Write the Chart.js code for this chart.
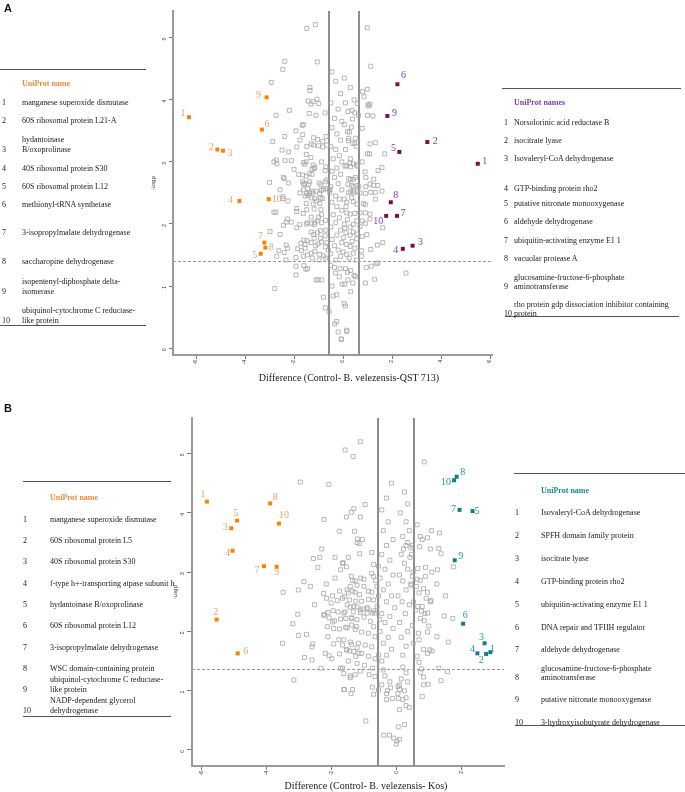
<!DOCTYPE html>
<html><head><meta charset="utf-8">
<script src="https://cdn.jsdelivr.net/npm/chart.js@4.4.0/dist/chart.umd.min.js"></script>
<style>
html,body{margin:0;padding:0;background:#fff;}
body{width:685px;height:792px;position:relative;overflow:hidden;font-family:"Liberation Serif","Times New Roman",serif;color:#1a1a1a;}
#txt{position:absolute;left:0;top:0;width:685px;height:792px;will-change:transform;}
.t{position:absolute;white-space:pre;font-size:8px;color:#1a1a1a;}
.ln{position:absolute;height:0;border-top:1.5px solid #555;}
canvas{position:absolute;}
.panel{position:absolute;font:bold 11px "Liberation Sans",Arial,sans-serif;color:#111;}
.xt{position:absolute;width:400px;text-align:center;font-size:10px;line-height:12px;white-space:pre;}
</style></head><body>
<canvas id="cA" width="380" height="400" style="left:120px;top:0px"></canvas>
<canvas id="cB" width="380" height="392" style="left:140px;top:400px"></canvas>
<div id="txt">
<div class="panel" style="left:4px;top:2px">A</div>
<div class="panel" style="left:4px;top:402px">B</div>
<div class="xt" style="left:149px;top:372px">Difference (Control- B. velezensis-QST 713)</div>
<div class="xt" style="left:166px;top:780px">Difference (Control- B. velezensis- Kos)</div>
</div>
<script>
// ---------------- DATA ----------------
const yTitle = "-Log p";
const labelsNum = ["1","2","3","4","5","6","7","8","9","10"];

// Panel A thresholds
const vLinesA = [-0.57, 0.65];
const hLineA = 1.40;
// Panel B thresholds
const vLinesB = [-0.56, 0.53];
const hLineB = 1.37;

// Panel A: down (orange) proteins 1..10
const downA_x = [-6.29,-5.13,-4.90,-4.23,-3.36,-3.31,-3.21,-3.17,-3.12,-3.03];
const downA_y = [3.72,3.20,3.18,2.37,1.52,3.52,1.70,1.62,4.04,2.40];
// Panel A: up (maroon) proteins 1..10
const upA_x = [5.50,3.44,2.84,2.44,2.30,2.22,2.20,1.95,1.81,1.76];
const upA_y = [2.97,3.32,1.65,1.60,3.16,4.25,2.13,2.35,3.74,2.13];
// Panel B: down (orange)
const downB_x = [-5.84,-5.54,-5.09,-5.05,-4.91,-4.89,-4.08,-3.89,-3.69,-3.62];
const downB_y = [4.19,2.20,3.74,3.36,3.87,1.63,3.10,4.16,3.09,3.82];
// Panel B: up (teal)
const upB_x = [2.90,2.77,2.72,2.50,2.35,2.06,1.95,1.86,1.80,1.78];
const upB_y = [1.65,1.62,1.80,1.63,4.03,2.13,4.05,4.61,3.20,4.55];

// Protein names
const namesA_left = ["manganese superoxide dismutase","60S ribosomal protein L21-A","hydantoinase\nB/oxoprolinase","40S ribosomal protein S30","60S ribosomal protein L12","methionyl-tRNA synthetase","3-isopropylmalate dehydrogenase","saccharopine dehydrogenase","isopentenyl-diphosphate delta-\nisomerase","ubiquinol-cytochrome C reductase-\nlike protein"];
const namesA_right = ["Norsolorinic acid reductase B","isocitrate lyase","Isovaleryl-CoA dehydrogenase","GTP-binding protein rho2","putative nitronate monooxygenase","aldehyde dehydrogenase","ubiquitin-activating enzyme E1 1","vacuolar protease A","glucosamine-fructose-6-phosphate\naminotransferase","rho protein gdp dissociation inhibitor containing\nprotein"];
const namesB_left = ["manganese superoxide dismutase","60S ribosomal protein L5","40S ribosomal protein S30","f-type h+-transporting atpase subunit h","hydantoinase B/oxoprolinase","60S ribosomal protein L12","3-isopropylmalate dehydrogenase","WSC domain-containing protein","ubiquinol-cytochrome C reductase-\nlike protein","NADP-dependent glycerol\ndehydrogenase"];
const namesB_right = ["Isovaleryl-CoA dehydrogenase","SPFH domain family protein","isocitrate lyase","GTP-binding protein rho2","ubiquitin-activating enzyme E1 1","DNA repair and TFIIH regulator","aldehyde dehydrogenase","glucosamine-fructose-6-phosphate\naminotransferase","putative nitronate monooxygenase","3-hydroxyisobutyrate dehydrogenase"];

// Other (non-significant) proteins, panel A [difference, -log p]
const greyA = [
[-1.48,5.15],[-1.13,5.21],[-2.38,4.62],[-1.05,4.61],[-2.46,4.49],[-2.93,4.28],[-1.35,4.2],[-1.35,4.15],[-1.07,4.01],[-1.43,3.98],[-1.22,3.97],[-1.31,3.93],[-0.99,3.94],[-2.19,3.83],[-2.73,3.75],[-1.38,3.78],[-1.11,3.75],[-0.73,3.79],[-1.67,3.59],[-1.62,3.6],[-1.92,3.5],[-1.65,3.44],[-2.38,3.41],[-1.2,3.39],[-1.04,3.36],[-0.69,3.41],[-0.83,3.33],[-2.87,3.33],
[-1.76,3.35],[-1.48,3.25],[-1.29,3.29],[-1.2,3.27],[-1.0,3.26],[-2.49,3.19],[-2.22,3.16],[-1.89,3.24],[-1.5,3.12],[-1.31,3.07],[-0.83,3.24],[-0.67,3.27],[-2.82,3.0],[-2.72,3.03],[-2.7,2.97],[-2.37,3.02],[-2.11,3.02],[-1.62,2.99],[-1.56,2.96],[-1.5,3.0],[-1.22,2.95],[-1.15,2.91],[-1.27,2.88],[-1.18,2.89],[-0.88,3.0],[-0.7,2.92],[-2.0,2.88],[-1.81,2.8],[-1.65,2.79],[-1.38,2.81],[-1.27,2.8],[-1.5,2.77],[-0.73,2.86],[-2.44,2.75],[-2.4,2.73],[-3.0,2.67],[-2.22,2.66],[-1.65,2.68],[-1.6,2.64],[-1.57,2.65],[-1.36,2.68],[-1.4,2.64],[-0.97,2.66],[-0.9,2.63],[-0.72,2.68],[-0.66,2.71],[-2.57,2.55],[-1.62,2.55],[-1.44,2.57],[-1.27,2.53],[-1.1,2.53],[-0.88,2.54],[-0.8,2.56],[-0.67,2.57],[-0.57,2.55],[-1.76,2.5],[-1.49,2.49],[-1.36,2.5],[-1.22,2.5],[-0.95,2.49],
[-2.45,2.44],[-2.45,2.41],[-2.25,2.37],[-1.89,2.25],[-1.89,2.2],[-2.82,2.19],[-2.74,2.19],[-2.27,2.08],[-2.32,2.03],[-2.43,1.98],[-2.11,2.03],[-2.98,1.88],[-2.57,1.83],[-2.32,1.66],[-2.27,1.61],[-2.4,1.54],[-2.62,1.57],[-2.71,1.48],[-2.33,1.42],
[-1.55,2.45],[-1.42,2.46],[-1.3,2.42],[-1.15,2.41],[-1.08,2.37],[-0.92,2.42],[-0.85,2.41],[-1.5,2.33],[-1.22,2.32],[-0.95,2.33],[-1.48,2.23],[-1.18,2.24],[-0.9,2.23],[-0.88,2.15],[-1.0,2.11],[-1.3,2.11],[-1.62,2.17],[-1.05,2.05],[-1.15,2.02],[-1.3,2.01],[-1.45,2.02],[-1.5,2.0],[-1.18,1.99],[-0.87,2.02],[-0.72,2.06],
[-1.89,1.94],[-1.77,1.99],[-1.3,1.87],[-1.2,1.83],[-1.04,1.86],[-0.92,1.89],[-0.7,1.9],[-0.73,1.81],[-0.92,1.77],[-1.18,1.77],[-1.6,1.74],[-1.47,1.73],[-1.72,1.69],[-1.55,1.67],[-1.3,1.7],[-1.12,1.65],[-1.02,1.68],[-0.88,1.71],[-0.72,1.63],[-0.65,1.7],[-1.85,1.6],[-1.7,1.57],[-1.55,1.61],[-1.3,1.53],[-1.15,1.56],[-0.95,1.51],[-0.8,1.49],[-0.6,1.58],[-1.45,1.5],[-1.92,1.46],[-1.62,1.48],[-1.25,1.45],[-0.98,1.42],[-0.7,1.45],
[-1.92,1.32],[-1.92,1.18],[-1.6,1.33],[-1.52,1.27],[-1.45,1.28],[-1.1,1.1],[-1.02,1.1],[-0.87,1.1],[-0.8,0.82],[-0.72,0.65],[-0.57,0.59],[-2.79,0.96],
[-0.45,1.0],[-0.26,0.86],[-0.4,0.84],[-0.26,0.43],[-0.34,0.39],[-0.2,0.26],[-0.07,0.15],[0.15,0.29],[0.07,1.03],[0.31,0.91],[0.04,0.72],[0.1,0.68],[0.15,0.27],[-0.07,0.14],[0.91,1.05],[1.29,1.11],[2.57,1.21],[0.5,1.15],[0.45,1.17],[0.95,1.3],[1.15,1.32],[1.35,1.36],[1.42,1.37],[0.1,1.28],[0.3,1.25],[0.18,1.22],
[-0.12,1.28],[-0.31,1.21],[-0.04,1.03],[-0.5,1.33],[-0.35,1.3],[-0.15,1.15],[0.2,1.1],[0.4,1.05],
[0.18,3.49],[0.23,3.38],[0.15,2.94],[0.23,2.73],[0.23,2.5],[-0.54,2.55],[-0.54,2.5],
[0.59,3.94],[0.37,3.83],[0.48,3.79],[0.2,3.81],[0.63,3.75],[0.39,3.69],[0.34,3.56],[0.26,3.48],[0.78,3.54],[0.5,3.38],[0.22,3.34],[0.4,3.3],[0.48,3.3],[0.55,3.25],[0.3,3.05],[0.28,2.98],[0.42,2.97],[0.55,2.95],[0.08,2.93],[0.3,2.92],[0.6,2.93],[0.78,3.0],
[0.99,5.16],[1.13,4.54],[0.99,4.17],[0.8,4.13],[0.86,4.05],[1.02,3.92],[1.1,3.93],[1.05,3.9],[1.0,3.75],[1.22,3.74],[1.1,3.29],[1.32,3.31],[1.0,3.13],[1.08,3.13],[1.7,3.13],[1.59,2.91],[1.43,2.86],[0.9,2.84],[0.93,2.75],[0.5,2.75],[0.3,2.72],[0.42,2.72],[1.25,2.72],[0.2,2.64],[0.35,2.62],[0.42,2.6],[0.58,2.62],[0.65,2.6],[0.93,2.6],[1.1,2.64],[1.25,2.62],[1.42,2.62],[0.58,2.52],[0.3,2.52],[0.45,2.5],
[0.42,2.53],[0.69,2.5],[0.91,2.49],[1.13,2.51],[1.32,2.51],[1.59,2.53],[1.32,2.4],[0.15,2.35],[0.42,2.36],[0.56,2.32],[0.83,2.33],[0.91,2.31],[1.1,2.16],[0.15,2.18],[0.29,2.16],[0.48,2.17],[0.69,2.18],[0.91,2.18],[0.18,2.07],[0.56,2.05],[0.78,2.05],[1.1,2.08],[0.91,2.01],[0.69,1.96],[0.42,1.99],[0.29,1.95],[0.07,1.93],[1.62,1.94],[0.97,1.83],[0.78,1.8],[0.56,1.84],[0.42,1.87],[0.29,1.82],[0.12,1.86],[1.4,1.66],[1.62,1.7],[1.13,1.59],[0.75,1.57],[0.48,1.61],[0.29,1.64],[0.15,1.67],[0.37,1.72],[0.56,1.76],[0.15,1.51],[0.42,1.53],[0.75,1.48],
[-0.45,4.45],[-0.3,4.3],[-0.1,4.1],[-0.5,3.95],[-0.2,3.85],[-0.35,3.7],[-0.05,3.65],[-0.45,3.55],[-0.25,3.45],[-0.1,3.35],[-0.5,3.25],[-0.3,3.2],[-0.15,3.1],[-0.4,3.05],[-0.05,3.0],[-0.25,2.9],[-0.45,2.85],[-0.1,2.8],[-0.35,2.75],[-0.2,2.65],[-0.5,2.6],[-0.05,2.55],[-0.3,2.45],[-0.15,2.4],[-0.45,2.35],[-0.25,2.28],[-0.05,2.22],[-0.4,2.15],[-0.15,2.1],[-0.3,2.02],[-0.5,1.95],[-0.1,1.9],[-0.25,1.82],[-0.45,1.75],[-0.05,1.7],[-0.35,1.65],[-0.2,1.58],[-0.5,1.52],[-0.1,1.48],[-0.3,1.42],[0.05,4.35],[0.3,4.2],[0.1,3.95],[0.45,4.0],[0.05,3.6],[0.1,3.2],[0.05,2.4],[0.12,2.28],[0.35,2.42],[0.05,2.0],[0.02,1.78],[0.0,1.55],[0.25,1.45],[0.55,1.42]
];

// Other (non-significant) proteins, panel B [difference, -log p]
const greyB = [
[-1.11,5.2],[-1.58,5.06],[-1.33,4.95],[0.86,4.86],[-2.96,4.52],[-2.08,4.48],[-2.23,3.89],[-1.54,3.93],[-1.39,4.01],[-1.31,4.07],[-0.96,4.14],[-1.11,3.93],[-1.76,3.69],[-1.29,3.69],[-1.2,3.56],[-1.14,3.48],[-1.05,3.55],[-1.21,3.5],[-2.3,3.39],[-2.56,3.23],[-2.36,3.25],[-1.89,3.25],[-1.48,3.25],[-1.13,3.31],[-0.76,3.33],[-1.64,3.16],[-1.54,3.09],[-0.7,3.13],[-1.66,3.15],[-1.72,3.04],[-2.42,3.08],[-0.76,2.98],[-0.7,2.93],[-0.64,2.86],[-0.6,2.76],[-1.89,2.9],[-1.39,2.93],[-1.35,2.86],[-1.27,2.85],[-1.1,2.9],[-1.0,2.88],[-2.85,2.84],[-2.65,2.76],[-3.02,2.7],[-3.49,2.66],[-2.16,2.8],
[-1.42,2.76],[-1.21,2.78],[-1.0,2.76],[-1.52,2.7],[-1.27,2.66],[-1.13,2.62],[-0.86,2.68],[-0.76,2.66],[-1.6,2.59],[-1.44,2.53],[-1.25,2.51],[-1.07,2.51],[-0.86,2.54],[-0.7,2.53],[-0.59,2.42],[-1.42,2.41],[-1.21,2.41],[-1.05,2.38],[-0.88,2.38],[-0.7,2.35],[-0.66,2.31],[-1.58,2.33],[-1.33,2.33],[-1.11,2.32],[-0.9,2.31],
[-2.52,2.45],[-2.15,2.56],[-2.01,2.48],[-1.82,2.52],[-1.66,2.56],[-2.24,2.64],[-1.97,2.6],[-1.75,2.68],[-1.48,2.65],[-1.35,2.68],[-2.24,2.27],[-1.95,2.35],[-1.62,2.31],
[-3.04,2.29],[-3.19,2.13],[-3.02,1.93],[-2.77,1.95],[-3.51,1.8],[-2.6,1.74],[-2.58,1.79],[-2.83,1.56],[-2.6,1.52],[-3.16,1.18],[-2.32,1.38],[-1.72,1.38],[-1.66,1.38],[-1.42,1.22],[-1.27,1.27],[-1.62,1.02],[-1.4,0.95],
[-2.22,2.29],[-2.11,2.32],[-1.8,2.33],[-2.07,2.23],[-1.97,2.16],[-1.91,2.18],[-1.72,2.21],[-1.56,2.22],[-1.39,2.23],[-2.13,2.08],[-1.93,2.05],[-1.75,2.04],[-1.56,2.07],[-1.38,2.11],[-1.23,2.08],[-2.11,1.91],[-1.93,1.79],[-1.77,1.86],[-1.66,1.77],[-1.52,1.69],[-1.38,1.78],[-1.21,1.72],[-2.19,1.63],[-2.07,1.59],[-1.99,1.54],[-1.75,1.62],[-1.44,1.67],[-1.25,1.58],[-1.15,1.63],
[-1.52,2.45],[-1.31,2.42],[-1.11,2.36],[-0.9,2.4],[-0.74,2.31],[-1.37,2.22],[-1.21,2.2],[-1.0,2.24],[-0.8,2.17],[-0.7,2.08],[-1.52,2.06],[-1.27,2.03],[-1.07,1.99],[-0.86,1.97],[-0.66,1.91],[-1.62,1.86],[-1.42,1.82],[-1.17,1.8],[-0.96,1.77],[-0.76,1.74],[-1.54,1.69],[-1.31,1.66],[-1.07,1.63],[-0.86,1.58],[-0.66,1.54],[-1.48,1.5],[-1.21,1.46],[-0.98,1.43],[-0.74,1.38],[-1.62,1.29],[-1.42,1.25],[-1.11,1.33],[-0.84,1.27],[-0.66,1.24],[-1.35,1.02],[-1.6,1.02],[-0.74,1.06],[-0.7,0.94],[-0.94,0.49],
[-0.39,0.25],[-0.21,0.25],[-0.08,0.2],[0.0,0.1],[0.02,0.15],[0.1,0.18],[0.06,0.39],[0.25,0.43],[-0.3,0.85],[-0.12,0.87],[0.06,0.87],[0.2,0.85],[0.3,0.88],[-0.27,1.0],[-0.55,1.01],[-0.18,1.05],[0.05,1.07],[0.1,1.02],
[0.2,1.4],[0.3,1.3],[0.15,1.2],[0.35,1.15],[0.1,1.1],[0.25,1.0],[0.05,0.95],[0.3,0.75],[0.4,0.72],[0.1,0.68],[-0.4,1.35],[-0.35,1.25],[-0.2,1.15],[-0.45,1.1],[-0.3,0.95],
[0.2,1.6],[0.3,1.75],[0.15,1.9],[0.35,2.0],[0.1,2.15],[0.28,2.3],[0.4,2.45],[0.18,2.5],[0.05,2.6],[0.3,2.7],[0.45,2.8],[0.2,2.85],[0.1,2.95],[0.35,3.05],[0.25,3.15],[0.42,3.25],[0.15,3.3],[0.3,3.45],[0.2,3.6],[0.4,3.7],[0.3,3.85],[0.12,4.0],[0.35,4.15],[0.25,4.35],
[-0.45,1.5],[-0.3,1.6],[-0.15,1.7],[-0.4,1.8],[-0.25,1.9],[-0.5,2.0],[-0.1,2.05],[-0.35,2.15],[-0.2,2.25],[-0.45,2.3],[-0.05,2.4],[-0.3,2.5],[-0.15,2.6],[-0.4,2.7],[-0.25,2.8],[-0.5,2.9],[-0.1,2.95],[-0.35,3.05],[-0.2,3.2],[-0.45,3.3],[-0.3,3.45],[-0.1,3.55],[-0.4,3.7],[-0.25,3.85],[-0.45,4.05],[-0.3,4.25],[-0.15,4.5],
[0.52,1.8],[0.5,2.1],[0.53,2.5],[0.52,3.0],[0.5,3.45],[-0.55,1.6],[-0.52,2.2],[-0.55,2.6],[-0.55,3.1],
[0.64,3.8],[1.09,3.7],[1.33,3.66],[0.74,3.6],[0.96,3.58],[0.8,3.55],[0.35,3.5],[0.45,3.41],[0.72,3.43],[1.05,3.39],[1.31,3.4],[0.22,3.39],[1.38,3.31],[0.47,3.3],[1.76,3.09],[0.66,3.06],[0.9,3.08],[1.09,3.0],[1.27,3.04],[0.9,2.93],[1.25,2.8],[1.52,2.6],[1.48,2.26],[1.74,2.22],
[0.49,2.93],[0.64,2.88],[0.74,2.86],[0.45,2.78],[0.62,2.76],[0.84,2.72],[0.96,2.66],[0.7,2.65],[0.92,2.56],[1.05,2.5],[0.8,2.42],[0.59,2.36],[0.88,2.3],[1.07,2.52],
[1.25,1.91],[1.6,1.82],[1.03,1.69],[1.1,1.67],[0.7,1.48],[1.31,1.38],[1.58,1.32],[1.38,1.17],[0.98,1.11],[0.84,1.1],[0.8,0.9],
[0.66,2.42],[0.78,2.34],[0.96,2.31],[0.74,2.22],[0.86,2.18],[1.0,2.09],[0.96,1.99],[0.68,1.97],[0.7,1.86],[0.84,1.7],[0.64,1.58],[0.96,1.63],[0.78,1.37],[0.74,1.31],[0.84,1.23]
];

// ---------------- LAYOUT (not data) ----------------
const offDownA = [[-6,-4],[-6,-2],[7,3],[-9,-1],[-6,2],[5,-5],[-4,-6],[6,0],[-8,-2],[8,0]];
const offUpA   = [[7,-2],[8,-1],[8,-3],[-7,2],[-6,-4],[6,-9],[6,-3],[5,-7],[7,-3],[-8,5]];
const offDownB = [[-4,-7],[-1,-7],[-6,-1],[-5,3],[-1,-7],[8,-2],[-7,4],[5,-6],[0,6],[5,-8]];
const offUpB   = [[2,-3],[-5,6],[-3,-6],[-5,-4],[4.5,0],[2,-8],[-6,-1],[6,-4],[6,-4],[-8,2]];

const C_ORANGE='#ff7f00', C_ORANGE_L='#f3a266', C_MAROON='#7c0c3e', C_PURPLE='#7a3bbf', C_TEAL='#0e8080', C_TEAL_L='#1f9c9c';

// ---------------- TABLES ----------------
const txt = document.getElementById('txt');
function addDiv(cls, text, css){ const d=document.createElement('div'); d.className=cls; d.textContent=text; Object.assign(d.style,css); txt.appendChild(d); return d; }
function buildTable(t){
  addDiv('ln','',{left:t.top[1]+'px',top:t.top[0]+'px',width:(t.top[2]-t.top[1])+'px'});
  addDiv('ln','',{left:t.bot[1]+'px',top:t.bot[0]+'px',width:(t.bot[2]-t.bot[1])+'px'});
  addDiv('t',t.header,{left:t.textX+'px',top:(t.headerY-5)+'px',lineHeight:'10px',fontWeight:'bold',color:t.headerColor});
  t.names.forEach((nm,i)=>{
    const lines=nm.split('\n').length, lh=t.lh, y=t.rows[i];
    addDiv('t',labelsNum[i],{left:t.numX+'px',top:Math.round(y-lh/2)+'px',lineHeight:lh+'px'});
    addDiv('t',nm,{left:t.textX+'px',top:Math.round(y-lh/2-(lines-1)*lh)+'px',lineHeight:lh+'px'});
  });
}
buildTable({names:namesA_left,header:'UniProt name',headerColor:'#f08a3c',numX:2,textX:22,headerY:84,lh:10,
  rows:[103,121,150,169,187,205,233,262,292,321],top:[69,0,146],bot:[325,0,146]});
buildTable({names:namesA_right,header:'UniProt names',headerColor:C_PURPLE,numX:504,textX:514,headerY:103,lh:9,
  rows:[122,140,158,188,203,221,240,258,286,313],top:[88,502,681],bot:[316,505,679]});
buildTable({names:namesB_left,header:'UniProt name',headerColor:'#f08a3c',numX:23,textX:50,headerY:498,lh:10,
  rows:[520,541,562,584,605,626,648,669,690,711],top:[481,23,171],bot:[716,23,171]});
buildTable({names:namesB_right,header:'UniProt name',headerColor:'#1a8a8a',numX:515,textX:541,headerY:491,lh:9,
  rows:[512,535,558,581,604,627,649,677,699,722],top:[473,514,685],bot:[725,515,685]});

// ---------------- CHARTS ----------------
const numLabelPlugin = {
  id:'numLabels',
  afterDatasetsDraw(chart){
    const ctx=chart.ctx;
    chart.data.datasets.forEach((ds,di)=>{
      if(!ds.numLabels) return;
      const meta=chart.getDatasetMeta(di);
      ctx.save();
      ctx.font='10px "Liberation Serif", serif';
      ctx.fillStyle=ds.labelColor; ctx.textAlign='center'; ctx.textBaseline='middle';
      meta.data.forEach((el,i)=>{ const o=ds.labelOffsets[i]; ctx.fillText(ds.numLabels[i], el.x+o[0], el.y+o[1]); });
      ctx.restore();
    });
  }
};
const thrPlugin = {
  id:'thr',
  beforeDatasetsDraw(chart,args,opts){
    const {ctx,chartArea:{top,bottom,left,right},scales:{x,y}}=chart;
    ctx.save();
    ctx.strokeStyle='#8e8e8e'; ctx.lineWidth=2;
    opts.xLines.forEach(v=>{ const px=Math.round(x.getPixelForValue(v)); ctx.beginPath(); ctx.moveTo(px,top); ctx.lineTo(px,bottom); ctx.stroke(); });
    ctx.setLineDash([3,2]); ctx.lineWidth=1; ctx.strokeStyle='#9a9a9a';
    const py=Math.round(y.getPixelForValue(opts.yLine))+0.5;
    ctx.beginPath(); ctx.moveTo(left,py); ctx.lineTo(right,py); ctx.stroke();
    ctx.restore();
  }
};
function pts(xs,ys){ return xs.map((v,i)=>({x:v,y:ys[i]})); }
function greyDs(arr){ return {data:arr.map(p=>({x:p[0],y:p[1]})),pointStyle:'rect',pointRadius:2.8,borderWidth:0.8,borderColor:'#a6a6a6',backgroundColor:'rgba(0,0,0,0)'}; }
function hiDs(xs,ys,col,lcol,offs){ return {data:pts(xs,ys),pointStyle:'rect',pointRadius:2.8,borderWidth:0,backgroundColor:col,borderColor:col,numLabels:labelsNum,labelColor:lcol,labelOffsets:offs}; }

function makeChart(id,o){
  return new Chart(document.getElementById(id),{
    type:'scatter',
    data:{datasets:[greyDs(o.grey),hiDs(o.dx,o.dy,C_ORANGE,C_ORANGE_L,o.doff),hiDs(o.ux,o.uy,o.ucol,o.ulcol,o.uoff)]},
    options:{
      responsive:false,animation:false,events:[],devicePixelRatio:1,
      layout:{padding:o.pad},
      plugins:{legend:{display:false},tooltip:{enabled:false},thr:{xLines:o.vLines,yLine:o.hLine}},
      scales:{
        x:{type:'linear',position:'bottom',min:o.xmin,max:o.xmax,
          ticks:{stepSize:2,includeBounds:false,minRotation:90,maxRotation:90,padding:1,color:'#333',font:{family:'"Liberation Sans", Arial, sans-serif',size:5}},
          grid:{display:true,drawOnChartArea:false,drawTicks:true,tickLength:4,color:'#777',lineWidth:1},
          border:{display:true,color:'#9a9a9a',width:2},
          afterFit:s=>{s.height=o.xh;}},
        y:{type:'linear',position:'left',min:o.ymin,max:o.ymax,
          ticks:{stepSize:1,includeBounds:false,minRotation:90,maxRotation:90,padding:o.ypad,color:'#333',font:{family:'"Liberation Sans", Arial, sans-serif',size:5}},
          grid:{display:true,drawOnChartArea:false,drawTicks:true,tickLength:o.ytl,color:'#777',lineWidth:1},
          border:{display:true,color:'#9a9a9a',width:2},
          title:{display:true,text:yTitle,color:'#222',font:{family:'"Liberation Sans", Arial, sans-serif',size:5},padding:{top:o.ytp,bottom:0}},
          afterFit:s=>{s.width=o.yw;}}
      }
    },
    plugins:[thrPlugin,numLabelPlugin]
  });
}
makeChart('cA',{grey:greyA,dx:downA_x,dy:downA_y,ux:upA_x,uy:upA_y,ucol:C_MAROON,ulcol:C_PURPLE,doff:offDownA,uoff:offUpA,
  vLines:vLinesA,hLine:hLineA,xmin:-6.94,xmax:6.08,ymin:-0.11,ymax:5.43,pad:{left:0,right:8,top:11,bottom:0},xh:45,yw:53,ypad:4,ytl:4,ytp:31});
makeChart('cB',{grey:greyB,dx:downB_x,dy:downB_y,ux:upB_x,uy:upB_y,ucol:C_TEAL,ulcol:C_TEAL_L,doff:offDownB,uoff:offUpB,
  vLines:vLinesB,hLine:hLineB,xmin:-6.3,xmax:3.32,ymin:-0.27,ymax:5.6,pad:{left:0,right:16,top:18,bottom:0},xh:26,yw:52,ypad:4,ytl:5,ytp:33});
</script>
</body></html>
